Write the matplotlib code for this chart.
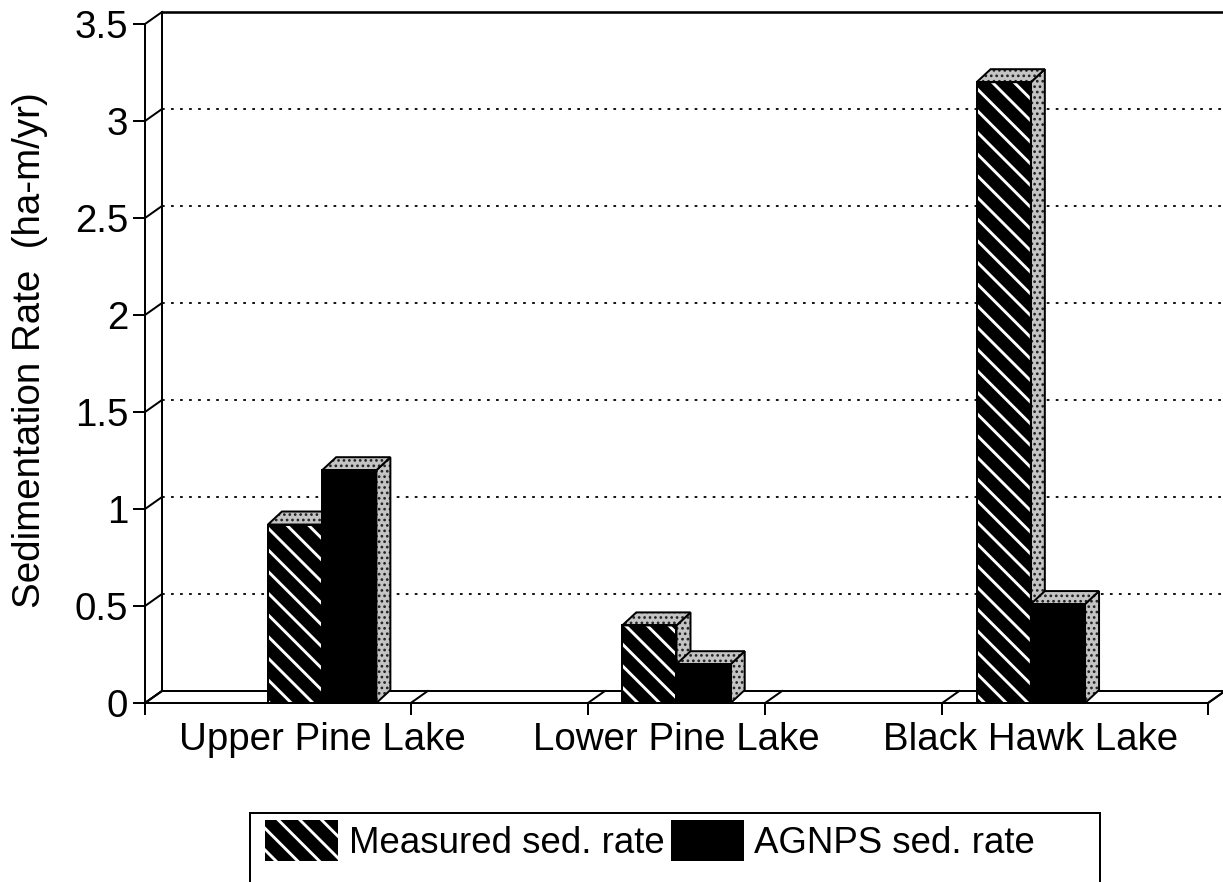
import matplotlib
matplotlib.use("Agg")
import matplotlib.pyplot as plt
from matplotlib.patches import Polygon, Rectangle, Patch
import numpy as np

plt.rcParams["font.family"] = ["Liberation Sans", "DejaVu Sans"]
plt.rcParams["hatch.linewidth"] = 1.6

# ---- data ----
categories = ["Upper Pine Lake", "Lower Pine Lake", "Black Hawk Lake"]
measured = [0.92, 0.40, 3.20]
agnps = [1.20, 0.20, 0.51]
series_labels = ["Measured sed. rate", "AGNPS sed. rate"]
y_ticks = [0, 0.5, 1, 1.5, 2, 2.5, 3, 3.5]
y_tick_labels = ["0", "0.5", "1", "1.5", "2", "2.5", "3", "3.5"]
divider_ticks = [-0.5, 0.25, 0.75, 1.25, 1.75, 2.5]

# ---- figure / axes geometry (pixels) ----
W, H, DPI = 1223, 882, 130
FS = 21.3
FS_LEG = 20.3
fig = plt.figure(figsize=(W / DPI, H / DPI), dpi=DPI)
L, R, B, T = 145, 1208, 703, 24
ax = fig.add_axes([L / W, 1 - B / H, (R - L) / W, (B - T) / H])
ax.set_xlim(-0.5, 2.5)
ax.set_ylim(0, 3.5)

px_x = (R - L) / 3.0
px_y = (B - T) / 3.5
WALL_DX, WALL_DY = 17 / px_x, 12 / px_y   # depth of back wall / floor
BAR_DX, BAR_DY = 14 / px_x, 13 / px_y     # depth of each bar
BAR_W = 0.153
SHADE = "#c4c4c4"
LW = 1.1

x0w = -0.5 + WALL_DX
far_right = 2.8  # runs past the figure edge

# back wall outline and dotted grid
ax.plot([x0w, x0w], [WALL_DY, 3.5 + WALL_DY], color="black", lw=LW, clip_on=False, zorder=1)
ax.plot([x0w, far_right], [3.5 + WALL_DY] * 2, color="black", lw=LW * 1.3, clip_on=False, zorder=1)
for v in y_ticks[1:-1]:
    ax.plot([x0w, far_right], [v + WALL_DY] * 2, color="black", lw=1.0,
            linestyle=(0, (1.5, 3.5)), clip_on=False, zorder=1)
# side wall connectors from the front axis to the back wall
for v in y_ticks:
    ax.plot([-0.5, x0w], [v, v + WALL_DY], color="black", lw=LW, clip_on=False, zorder=1)

# floor
floor = Polygon([(-0.5, 0), (2.5, 0), (2.5 + WALL_DX, WALL_DY), (x0w, WALL_DY)],
                closed=True, facecolor="white", edgecolor="black", lw=LW,
                clip_on=False, zorder=2)
ax.add_patch(floor)
for t in divider_ticks:
    ax.plot([t, t + WALL_DX], [0, WALL_DY], color="black", lw=LW, clip_on=False, zorder=2)


def add_depth(bars, z):
    """Stippled side and top faces giving each bar its depth."""
    for p in bars.patches:
        x0, w, h = p.get_x(), p.get_width(), p.get_height()
        x1 = x0 + w
        faces = [
            [(x1, 0), (x1 + BAR_DX, BAR_DY), (x1 + BAR_DX, h + BAR_DY), (x1, h)],
            [(x0, h), (x1, h), (x1 + BAR_DX, h + BAR_DY), (x0 + BAR_DX, h + BAR_DY)],
        ]
        for verts in faces:
            with plt.rc_context({"hatch.linewidth": 0.9}):
                dots = Polygon(verts, closed=True, facecolor=SHADE, edgecolor="#202020",
                               hatch="....", lw=0, clip_on=False, zorder=z)
            ax.add_patch(dots)
            ax.add_patch(Polygon(verts, closed=True, fill=False, edgecolor="black",
                                 lw=LW, clip_on=False, zorder=z))
        ax.add_patch(Rectangle((x0, 0), w, h, fill=False, edgecolor="black", lw=LW,
                               clip_on=False, zorder=z))


pos = np.arange(len(categories))
b1 = ax.bar(pos - BAR_W, measured, width=BAR_W, align="edge", facecolor="black",
            edgecolor="white", hatch="\\\\", linewidth=0, zorder=3, clip_on=False)
add_depth(b1, 3.1)
b2 = ax.bar(pos, agnps, width=BAR_W, align="edge", facecolor="black",
            edgecolor="black", linewidth=0, zorder=4, clip_on=False)
add_depth(b2, 4.1)

# axes, ticks and labels
for s in ("top", "right"):
    ax.spines[s].set_visible(False)
for s in ("left", "bottom"):
    ax.spines[s].set_linewidth(LW)
    ax.spines[s].set_zorder(2.5)

tick_len = 12 * 72 / DPI
ax.set_yticks(y_ticks)
ax.set_yticklabels(y_tick_labels)
ax.tick_params(axis="y", direction="out", length=tick_len, width=LW,
               pad=5 * 72 / DPI, labelsize=FS)
ax.set_xticks(pos)
ax.set_xticklabels(categories)
ax.set_xticks(divider_ticks, minor=True)
ax.tick_params(axis="x", which="major", length=0, pad=19 * 72 / DPI, labelsize=FS)
ax.tick_params(axis="x", which="minor", direction="out", length=tick_len, width=LW)

fig.text(30 / W, 1 - 350 / H, "Sedimentation Rate  (ha-m/yr)", rotation=90,
         ha="center", va="center", fontsize=FS)

# legend box (open at the bottom of the page)
fig.add_artist(Rectangle((250 / W, -0.05), 850 / W, 1 - 813 / H + 0.05,
                         transform=fig.transFigure, fill=False,
                         edgecolor="black", lw=LW))
handles = [Patch(facecolor="black", edgecolor="white", hatch="\\\\", linewidth=0),
           Patch(facecolor="black", edgecolor="black", linewidth=0)]
fig.legend(handles, series_labels, loc="upper left",
           bbox_to_anchor=(265 / W, 1 - 820 / H), ncol=2, frameon=False,
           fontsize=FS_LEG, handlelength=2.0, handleheight=1.35,
           handletextpad=0.28, columnspacing=0.17, borderpad=0, borderaxespad=0)

fig.savefig("out.png", dpi=DPI)
